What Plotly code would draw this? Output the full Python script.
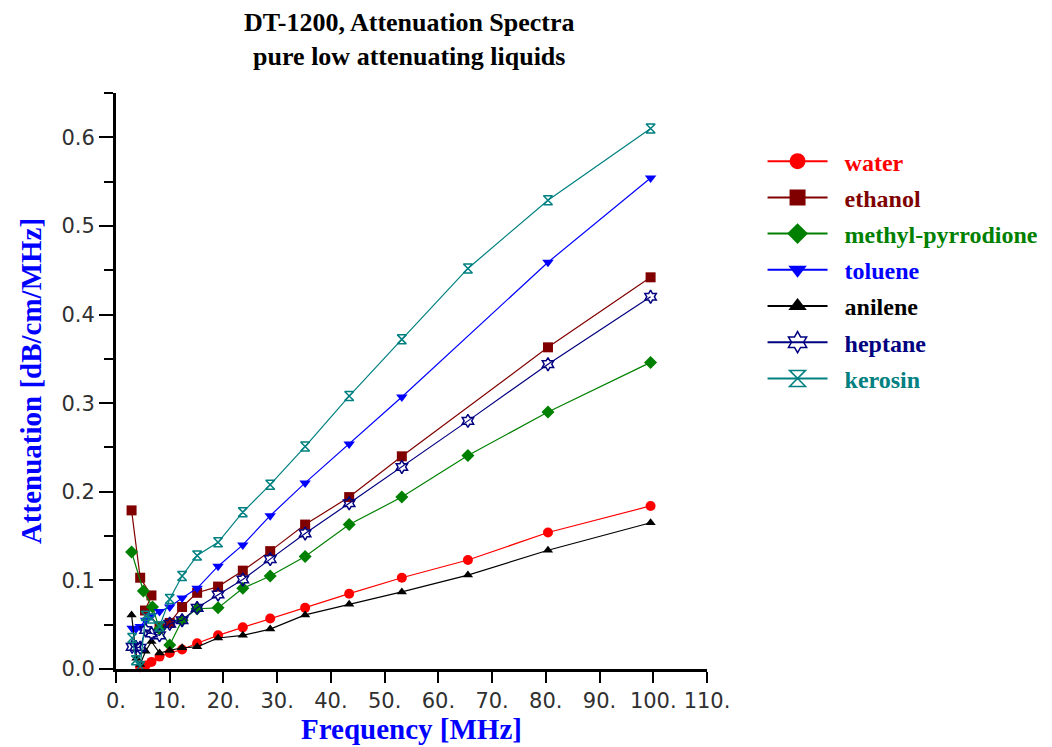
import plotly.graph_objects as go

# ---------------- data ----------------
names = ["water", "ethanol", "methyl-pyrrodione", "toluene", "anilene", "heptane", "kerosin"]
colors = ["#FF0000", "#800000", "#008000", "#0000FF", "#000000", "#000080", "#008080"]
symbols = ["circle", "square", "diamond", "triangle-down", "triangle-up", "hexagram-open", "hourglass-open"]

water_f = [4.5, 5.5, 6.6, 8.1, 10.0, 12.3, 15.1, 19.0, 23.6, 28.7, 35.2, 43.4, 53.2, 65.5, 80.4, 99.5]
water_a = [0.002, 0.004, 0.008, 0.014, 0.018, 0.022, 0.029, 0.038, 0.047, 0.057, 0.069, 0.085, 0.103, 0.123, 0.154, 0.184]

ethanol_f = [2.9, 4.5, 6.6, 5.4, 8.1, 10.0, 12.3, 15.1, 19.0, 23.6, 28.7, 35.2, 43.4, 53.2, 80.4, 99.5]
ethanol_a = [0.179, 0.103, 0.083, 0.066, 0.048, 0.052, 0.070, 0.086, 0.093, 0.111, 0.133, 0.163, 0.194, 0.240, 0.363, 0.442]

methyl_f = [2.9, 5.1, 6.8, 8.1, 10.0, 12.3, 15.1, 19.0, 23.6, 28.7, 35.2, 43.4, 53.2, 65.5, 80.4, 99.5]
methyl_a = [0.132, 0.088, 0.070, 0.045, 0.027, 0.055, 0.068, 0.069, 0.091, 0.105, 0.127, 0.163, 0.194, 0.241, 0.290, 0.346]

toluene_f = [3.0, 3.7, 4.5, 5.5, 6.6, 8.1, 10.0, 12.3, 15.1, 19.0, 23.6, 28.7, 35.2, 43.4, 53.2, 80.4, 99.5]
toluene_a = [0.046, 0.045, 0.048, 0.055, 0.060, 0.065, 0.070, 0.080, 0.091, 0.116, 0.140, 0.173, 0.210, 0.254, 0.307, 0.459, 0.554]

anilene_f = [2.9, 3.8, 4.5, 5.5, 6.6, 8.1, 10.0, 12.3, 15.1, 19.0, 23.6, 28.7, 35.2, 43.4, 53.2, 65.5, 80.4, 99.5]
anilene_a = [0.061, 0.012, 0.005, 0.020, 0.031, 0.018, 0.021, 0.024, 0.025, 0.035, 0.038, 0.045, 0.061, 0.073, 0.087, 0.106, 0.134, 0.165]

heptane_f = [3.0, 3.7, 4.5, 5.5, 6.6, 8.1, 10.0, 12.3, 15.1, 19.0, 23.6, 28.7, 35.2, 43.4, 53.2, 65.5, 80.4, 99.5]
heptane_a = [0.025, 0.025, 0.024, 0.044, 0.040, 0.038, 0.051, 0.055, 0.069, 0.084, 0.101, 0.124, 0.153, 0.187, 0.228, 0.280, 0.344, 0.420]

kerosin_f = [3.0, 3.7, 4.5, 5.5, 6.6, 8.1, 10.0, 12.3, 15.1, 19.0, 23.6, 28.7, 35.2, 43.4, 53.2, 65.5, 80.4, 99.5]
kerosin_a = [0.035, 0.010, 0.003, 0.060, 0.057, 0.048, 0.079, 0.105, 0.128, 0.143, 0.177, 0.208, 0.251, 0.308, 0.372, 0.452, 0.529, 0.610]

x_ticks = [0, 10, 20, 30, 40, 50, 60, 70, 80, 90, 100, 110]
x_tick_labels = ["0.", "10.", "20.", "30.", "40.", "50.", "60.", "70.", "80.", "90.", "100.", "110."]
y_ticks = [0.0, 0.1, 0.2, 0.3, 0.4, 0.5, 0.6]
y_tick_labels = ["0.0", "0.1", "0.2", "0.3", "0.4", "0.5", "0.6"]

series_f = [water_f, ethanol_f, methyl_f, toluene_f, anilene_f, heptane_f, kerosin_f]
series_a = [water_a, ethanol_a, methyl_a, toluene_a, anilene_a, heptane_a, kerosin_a]

plot_sizes = [10, 10, 10, 10, 9, 10, 9]
legend_sizes = [22, 17, 20, 20, 18, 18, 16]

fig = go.Figure()

for i in range(len(names)):
    fig.add_trace(go.Scatter(
        x=series_f[i], y=series_a[i], mode="lines+markers",
        line=dict(color=colors[i], width=1.2),
        marker=dict(symbol=symbols[i], size=plot_sizes[i], color=colors[i],
                    line=dict(color=colors[i], width=1.5 if "open" in symbols[i] else 0)),
        showlegend=False, cliponaxis=False, hoverinfo="x+y+name", name=names[i],
    ))

for i in range(len(names)):
    fig.add_trace(go.Scatter(
        x=[None], y=[None], mode="lines+markers",
        line=dict(color=colors[i], width=2),
        marker=dict(symbol=symbols[i], size=legend_sizes[i], color=colors[i],
                    line=dict(color=colors[i], width=1.5 if "open" in symbols[i] else 0)),
        name='&nbsp;&nbsp;<b><span style="color:%s">%s</span></b>' % (colors[i], names[i]),
        legendgroup="g%d" % i, showlegend=True,
    ))

serif = "Liberation Serif"

# The page body adds an 8px margin, so the figure is sized to fit the 1052x747 window.
fig.update_layout(
    width=1044, height=739,
    paper_bgcolor="white", plot_bgcolor="white",
    margin=dict(l=108, r=345, t=85, b=78, autoexpand=False),
    showlegend=True,
    legend=dict(
        x=1.094, y=0.92, xanchor="left", yanchor="top",
        font=dict(family=serif, size=24),
        itemwidth=60, tracegroupgap=2, bgcolor="rgba(0,0,0,0)",
    ),
    annotations=[
        dict(text="<b>DT-1200, Attenuation Spectra<br>pure low attenuating liquids</b>",
             x=0.496, y=1.093, xref="paper", yref="paper",
             xanchor="center", yanchor="middle", showarrow=False,
             font=dict(family=serif, size=26, color="black")),
    ],
)

fig.update_xaxes(
    range=[0, 110], tickmode="array", tickvals=x_ticks, ticktext=x_tick_labels,
    ticks="outside", ticklen=11, tickwidth=2, tickcolor="black",
    showline=True, linewidth=3, linecolor="black",
    showgrid=False, zeroline=False, automargin=False,
    tickfont=dict(family="DejaVu Sans", size=21, color="#303030"),
    title=dict(text="<b>Frequency [MHz]</b>", font=dict(family=serif, size=29, color="#0000FF"), standoff=4),
)
fig.update_yaxes(
    range=[0, 0.65], tickmode="array", tickvals=y_ticks, ticktext=y_tick_labels,
    ticks="outside", ticklen=14, tickwidth=2, tickcolor="black",
    minor=dict(dtick=0.05, tick0=0, ticks="outside", ticklen=9, tickwidth=2, tickcolor="black"),
    showline=True, linewidth=3, linecolor="black",
    showgrid=False, zeroline=False, automargin=False,
    tickfont=dict(family="DejaVu Sans", size=21, color="#303030"),
    title=dict(text="<b>Attenuation [dB/cm/MHz]</b>", font=dict(family=serif, size=29, color="#0000FF"), standoff=12),
)

fig.write_html("out.html")
